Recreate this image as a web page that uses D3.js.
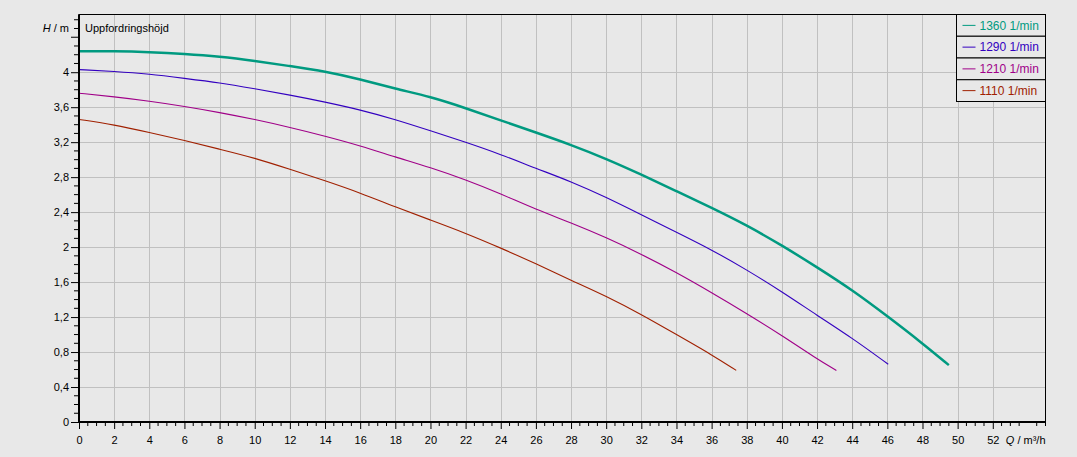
<!DOCTYPE html>
<html>
<head>
<meta charset="utf-8">
<script src="https://cdn.jsdelivr.net/npm/d3@7"></script>
<style>
body { margin: 0; background: #e8e8e8; }
svg { display: block; font-family: "Liberation Sans", Arial, sans-serif; }
</style>
</head>
<body>
<svg width="1077" height="457"></svg>
<script>
// pump curves, Q in m3/h, H in m
var speeds = ["1360 1/min", "1290 1/min", "1210 1/min", "1110 1/min"];
var colors = ["#009a80", "#3300c0", "#a00088", "#a02000"];

var q1360 = [0, 2, 4, 6, 8, 10, 12, 14, 16, 18, 20, 22, 24, 26, 28, 30, 32, 34, 36, 38, 40, 42, 44, 46, 48, 49.5];
var h1360 = [4.24, 4.24, 4.23, 4.21, 4.18, 4.13, 4.07, 4.01, 3.92, 3.81, 3.72, 3.59, 3.45, 3.31, 3.17, 3.01, 2.83, 2.64, 2.45, 2.25, 2.02, 1.77, 1.51, 1.21, 0.90, 0.65];
var q1290 = [0, 2, 4, 6, 8, 10, 12, 14, 16, 18, 20, 22, 24, 26, 28, 30, 32, 34, 36, 38, 40, 42, 44, 46.05];
var h1290 = [4.03, 4.01, 3.98, 3.93, 3.88, 3.81, 3.74, 3.66, 3.57, 3.46, 3.33, 3.20, 3.06, 2.90, 2.75, 2.57, 2.37, 2.17, 1.97, 1.74, 1.49, 1.22, 0.96, 0.66];
var q1210 = [0, 2, 4, 6, 8, 10, 12, 14, 16, 18, 20, 22, 24, 26, 28, 30, 32, 34, 36, 38, 40, 42, 43.1];
var h1210 = [3.76, 3.72, 3.67, 3.61, 3.54, 3.46, 3.37, 3.27, 3.16, 3.03, 2.91, 2.77, 2.61, 2.43, 2.28, 2.11, 1.92, 1.71, 1.48, 1.24, 0.99, 0.72, 0.59];
var q1110 = [0, 2, 4, 6, 8, 10, 12, 14, 16, 18, 20, 22, 24, 26, 28, 30, 32, 34, 36, 37.4];
var h1110 = [3.46, 3.40, 3.31, 3.22, 3.12, 3.02, 2.89, 2.76, 2.62, 2.46, 2.31, 2.16, 1.99, 1.81, 1.62, 1.44, 1.23, 1.00, 0.77, 0.59];

var xTicks = d3.range(0, 53, 2);
var yTicks = d3.range(0, 4.01, 0.4);

var svg = d3.select("svg");
var pLeft = 79, pRight = 1045.5, pTop = 14.5, pBottom = 422;

var x = d3.scaleLinear().domain([0, 55]).range([pLeft, pRight]);
var y = d3.scaleLinear().domain([0, 4.66]).range([pBottom, pTop]);

var series = [
	{ name: speeds[0], color: colors[0], q: q1360, h: h1360, w: 2.5 },
	{ name: speeds[1], color: colors[1], q: q1290, h: h1290, w: 1.1 },
	{ name: speeds[2], color: colors[2], q: q1210, h: h1210, w: 1.1 },
	{ name: speeds[3], color: colors[3], q: q1110, h: h1110, w: 1.1 }
];

// grid
var grid = svg.append("g").attr("stroke", "#c0c0c0").attr("stroke-width", 1);
grid.selectAll("line.v")
	.data(xTicks.filter(function(d) { return d > 0; }))
	.enter().append("line")
		.attr("x1", function(d) { return Math.round(x(d)) + 0.5; })
		.attr("x2", function(d) { return Math.round(x(d)) + 0.5; })
		.attr("y1", pTop).attr("y2", pBottom);
grid.selectAll("line.h")
	.data(yTicks.filter(function(d) { return d > 0; }))
	.enter().append("line")
		.attr("y1", function(d) { return Math.round(y(d)) + 0.5; })
		.attr("y2", function(d) { return Math.round(y(d)) + 0.5; })
		.attr("x1", pLeft).attr("x2", pRight);

// curves
var line = d3.line()
	.x(function(d) { return x(d[0]); })
	.y(function(d) { return y(d[1]); })
	.curve(d3.curveBasis);

svg.append("g").selectAll("path")
	.data(series)
	.enter().append("path")
		.attr("fill", "none")
		.attr("stroke", function(d) { return d.color; })
		.attr("stroke-width", function(d) { return d.w; })
		.attr("stroke-linejoin", "round")
		.attr("d", function(d) { return line(d3.zip(d.q, d.h)); });

// frame
svg.append("rect")
	.attr("x", pLeft).attr("y", pTop)
	.attr("width", pRight - pLeft).attr("height", pBottom - pTop)
	.attr("fill", "none").attr("stroke", "#000").attr("stroke-width", 1);

// x axis
var xAxis = d3.axisBottom(x)
	.tickValues(xTicks)
	.tickFormat(function(d) { return d; })
	.tickSize(7)
	.tickPadding(7);
var gx = svg.append("g").attr("transform", "translate(0," + pBottom + ")").call(xAxis);
gx.selectAll(".minor")
	.data(d3.range(0, 55.01, 0.5).filter(function(d) { return d % 2 != 0; }))
	.enter().append("line")
		.attr("class", "minor")
		.attr("stroke", "#000")
		.attr("x1", function(d) { return x(d); }).attr("x2", function(d) { return x(d); })
		.attr("y1", 0).attr("y2", 4);
gx.select(".domain").attr("stroke-width", 2).attr("d", "M" + pLeft + ",0H" + pRight);

// y axis
var yAxis = d3.axisLeft(y)
	.tickValues(yTicks)
	.tickFormat(function(d) { return d3.format(".1~f")(d).replace(".", ","); })
	.tickSize(8)
	.tickPadding(2);
var gy = svg.append("g").attr("transform", "translate(" + pLeft + ",0)").call(yAxis);
gy.selectAll(".minor")
	.data(d3.range(0, 4.66, 0.1).filter(function(d) { return Math.round(d * 10) % 4 != 0; }))
	.enter().append("line")
		.attr("class", "minor")
		.attr("stroke", "#000")
		.attr("x1", -5).attr("x2", 0)
		.attr("y1", function(d) { return y(d); }).attr("y2", function(d) { return y(d); });
gy.append("line").attr("stroke", "#000").attr("x1", -8).attr("x2", 0).attr("y1", y(4.4)).attr("y2", y(4.4));
gy.select(".domain").attr("stroke-width", 2).attr("d", "M0," + pTop + "V" + pBottom);

svg.selectAll(".tick text").attr("font-size", 11).attr("fill", "#000").attr("font-family", "Liberation Sans, Arial, sans-serif");

// axis titles
var ht = svg.append("text").attr("x", 69).attr("y", y(4.5)).attr("dy", "0.35em")
	.attr("text-anchor", "end").attr("font-size", 11);
ht.append("tspan").attr("font-style", "italic").text("H");
ht.append("tspan").text(" / m");

svg.append("text").attr("x", 85).attr("y", y(4.5)).attr("dy", "0.35em")
	.attr("font-size", 11).text("Uppfordringshöjd");

var qt = svg.append("text").attr("x", pRight).attr("y", pBottom + 22)
	.attr("text-anchor", "end").attr("font-size", 11);
qt.append("tspan").attr("font-style", "italic").text("Q");
qt.append("tspan").text(" / m³/h");

// legend
var lx = 956.5, rowH = 21.75;
var legend = svg.append("g");
var row = legend.selectAll("g")
	.data(series)
	.enter().append("g")
		.attr("transform", function(d, i) { return "translate(" + lx + "," + (pTop + i * rowH) + ")"; });
row.append("rect")
	.attr("width", pRight - lx).attr("height", rowH)
	.attr("fill", "#e8e8e8").attr("stroke", "#000");
row.append("line")
	.attr("x1", 6).attr("x2", 19).attr("y1", rowH / 2).attr("y2", rowH / 2)
	.attr("stroke", function(d) { return d.color; });
row.append("text")
	.attr("x", 23).attr("y", rowH / 2).attr("dy", "0.35em")
	.attr("font-size", 12)
	.attr("fill", function(d) { return d.color; })
	.text(function(d) { return d.name; });
</script>
</body>
</html>
